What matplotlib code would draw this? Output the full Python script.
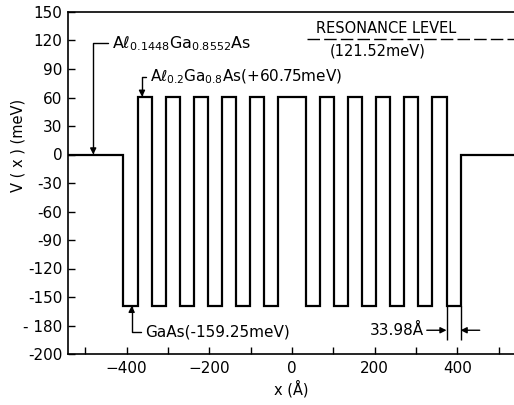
import matplotlib
matplotlib.use("Agg")
import matplotlib.pyplot as plt
import numpy as np

# ---- data ----
# layer boundaries (Angstrom); every layer is 33.98 A, central barrier is double
x_edges = [-542, -407.76, -373.78, -339.80, -305.82, -271.84, -237.86, -203.88,
           -169.90, -135.92, -101.94, -67.96, -33.98, 33.98, 67.96, 101.94,
           135.92, 169.90, 203.88, 237.86, 271.84, 305.82, 339.80, 373.78,
           407.76, 537]
# potential of each layer (meV)
V_levels = [0, -159.25, 60.75, -159.25, 60.75, -159.25, 60.75, -159.25,
            60.75, -159.25, 60.75, -159.25, 60.75, -159.25, 60.75, -159.25,
            60.75, -159.25, 60.75, -159.25, 60.75, -159.25, 60.75, -159.25, 0]
resonance_level = 121.52

# NOTE: in the reference the gap between the "-180" and "-200" ticks is as wide
# as a full 30 meV step, so the bottom tick is drawn at -210 but labelled "-200"
# to reproduce the original (non-proportional) axis.
y_ticks = [-210, -180, -150, -120, -90, -60, -30, 0, 30, 60, 90, 120, 150]
y_ticklabels = ["-200", "- 180", "-150", "-120", "-90", "-60", "-30", "0",
                "30", "60", "90", "120", "150"]
x_major = [-400, -200, 0, 200, 400]
x_minor = [-500, -300, -100, 100, 300, 500]

plt.rcParams['font.family'] = ['DejaVu Sans']
fig = plt.figure(figsize=(5.14, 4.05), dpi=100)
ax = fig.add_axes([68/514, 51/405, 446/514, 342/405])

ax.stairs(V_levels, x_edges, baseline=None, color='black', linewidth=1.6)

ax.set_xlim(x_edges[0], x_edges[-1])
ax.set_ylim(-210, 150)
ax.set_yticks(y_ticks)
ax.set_yticklabels(y_ticklabels)
ax.set_xticks(x_major)
ax.set_xticks(x_minor, minor=True)
ax.tick_params(axis='both', which='both', direction='in', length=5, width=1,
               labelsize=11, top=False, right=False, colors='black')
ax.tick_params(axis='x', pad=5)
ax.tick_params(axis='y', pad=4)
for s in ['left', 'bottom', 'top']:
    ax.spines[s].set_linewidth(1.2)
ax.spines['right'].set_visible(False)

ax.set_xlabel("x (Å)", fontsize=10.5, labelpad=3)
ax.set_ylabel("V ( x ) (meV)", fontsize=10.5)
ax.yaxis.set_label_coords(-0.095, 0.61)

# resonance level
ax.hlines(resonance_level, 36, x_edges[-1], colors='black', linewidth=1.0,
          linestyles=(0, (9, 3)))
ax.text(227, 133, "RESONANCE LEVEL", fontsize=10.5, ha='center', va='center')
ax.text(208, 109, "(121.52meV)", fontsize=10.5, ha='center', va='center')

arrow = dict(arrowstyle='-|>', color='black', lw=1.0, mutation_scale=9,
             shrinkA=1, shrinkB=0)

ax.annotate(r"A$\ell_{0.1448}$Ga$_{0.8552}$As", xy=(-481, 0), xytext=(-435, 117),
            fontsize=11.5, ha='left', va='center',
            arrowprops=dict(connectionstyle='angle,angleA=0,angleB=90,rad=0', **arrow))
ax.annotate(r"A$\ell_{0.2}$Ga$_{0.8}$As(+60.75meV)", xy=(-363, 60.75), xytext=(-343, 82),
            fontsize=11, ha='left', va='center',
            arrowprops=dict(connectionstyle='angle,angleA=0,angleB=90,rad=0', **arrow))
ax.annotate("GaAs(-159.25meV)", xy=(-388, -159.25), xytext=(-355, -187),
            fontsize=11, ha='left', va='center',
            arrowprops=dict(connectionstyle='angle,angleA=0,angleB=90,rad=0', **arrow))

# well-width marker
x_l = x_edges[-3]
x_r = x_edges[-2]
ax.vlines([x_l, x_r], -195, -159.25, colors='black', linewidth=1.0)
ax.text(318, -185, "33.98Å", fontsize=11, ha='right', va='center')
ax.annotate("", xy=(x_l, -185), xytext=(326, -185),
            arrowprops=dict(arrowstyle='-|>', color='black', lw=1.0, mutation_scale=9,
                            shrinkA=0, shrinkB=0))
ax.annotate("", xy=(x_r, -185), xytext=(454, -185),
            arrowprops=dict(arrowstyle='-|>', color='black', lw=1.0, mutation_scale=9,
                            shrinkA=0, shrinkB=0))

fig.savefig("out.png", dpi=100)
